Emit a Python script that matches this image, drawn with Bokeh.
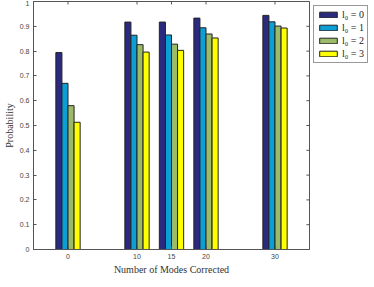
from bokeh.plotting import figure
from bokeh.models import ColumnDataSource, FixedTicker, Legend, LegendItem, Range1d
from bokeh.transform import dodge
from bokeh.embed import file_html
from bokeh.resources import INLINE

# Data
modes = [0, 10, 15, 20, 30]
p_l0_0 = [0.794, 0.917, 0.917, 0.933, 0.944]
p_l0_1 = [0.670, 0.864, 0.865, 0.894, 0.918]
p_l0_2 = [0.580, 0.826, 0.828, 0.869, 0.901]
p_l0_3 = [0.513, 0.796, 0.803, 0.853, 0.893]
series_names = ["l\u2080 = 0", "l\u2080 = 1", "l\u2080 = 2", "l\u2080 = 3"]
y_ticks = [0, 0.1, 0.2, 0.3, 0.4, 0.5, 0.6, 0.7, 0.8, 0.9, 1]
y_tick_labels = ["0", "0.1", "0.2", "0.3", "0.4", "0.5", "0.6", "0.7", "0.8", "0.9", "1"]
x_tick_labels = ["0", "10", "15", "20", "30"]

colors = ["#2c2a80", "#0b9fd6", "#9cbb69", "#ffff00"]
offsets = [-1.32, -0.44, 0.44, 1.32]
bar_w = 0.88
x_lo, x_hi = -5, 35

source = ColumnDataSource(dict(x=modes, s0=p_l0_0, s1=p_l0_1, s2=p_l0_2, s3=p_l0_3))

p = figure(frame_width=276, frame_height=248, output_backend="svg", toolbar_location=None,
           x_range=Range1d(x_lo, x_hi), y_range=Range1d(0, 1),
           min_border_left=10, min_border_right=0, min_border_top=1, min_border_bottom=0)
p.xgrid.visible = False
p.ygrid.visible = False
axis_color = "#555555"
label_color = "#444444"
p.outline_line_color = axis_color
p.outline_line_width = 1
p.background_fill_color = "white"
p.border_fill_color = "white"

renderers = []
for i, key in enumerate(["s0", "s1", "s2", "s3"]):
    r = p.vbar(x=dodge("x", offsets[i], range=p.x_range), top=key, width=bar_w, bottom=0,
               source=source, fill_color=colors[i], line_color="#222222", line_width=1)
    renderers.append(r)

# mirrored box ticks on top and right
tick_src_x = ColumnDataSource(dict(x=modes, y0=[1] * len(modes), y1=[0.988] * len(modes)))
p.segment(x0="x", x1="x", y0="y0", y1="y1", source=tick_src_x, line_color=axis_color, line_width=1)
tick_src_y = ColumnDataSource(dict(y=y_ticks, x0=[x_hi] * len(y_ticks), x1=[x_hi - 0.45] * len(y_ticks)))
p.segment(x0="x0", x1="x1", y0="y", y1="y", source=tick_src_y, line_color=axis_color, line_width=1)

xa = p.xaxis[0]
xa.ticker = FixedTicker(ticks=modes)
xa.major_label_overrides = {m: lab for m, lab in zip(modes, x_tick_labels)}
xa.axis_label = "Number of Modes Corrected"

ya = p.yaxis[0]
ya.ticker = FixedTicker(ticks=y_ticks)
ya.major_label_overrides = {t: lab for t, lab in zip(y_ticks, y_tick_labels)}
ya.axis_label = "Probability"

for ax in (xa, ya):
    ax.axis_line_color = axis_color
    ax.major_tick_line_color = axis_color
    ax.major_tick_in = 3
    ax.major_tick_out = 0
    ax.minor_tick_line_color = None
    ax.major_label_text_font = "Liberation Sans"
    ax.major_label_text_font_size = "7px"
    ax.major_label_text_color = label_color
    ax.major_label_standoff = 4
    ax.axis_label_text_font = "Liberation Serif"
    ax.axis_label_text_font_style = "normal"
    ax.axis_label_text_font_size = "10px"
    ax.axis_label_text_color = "#333333"
    ax.axis_label_standoff = 2

legend = Legend(items=[LegendItem(label=series_names[i], renderers=[renderers[i]]) for i in range(4)],
                location="top_left", orientation="vertical")
legend.label_text_font = "Liberation Serif"
legend.label_text_font_size = "10px"
legend.label_text_color = "#222222"
legend.glyph_width = 22
legend.glyph_height = 7
legend.label_height = 8
legend.label_standoff = 3
legend.spacing = 2
legend.padding = 3
legend.margin = 4
legend.border_line_color = "#333333"
legend.border_line_width = 1
legend.background_fill_alpha = 1
p.add_layout(legend, "right")

open("out.html", "w").write(file_html(p, INLINE))
